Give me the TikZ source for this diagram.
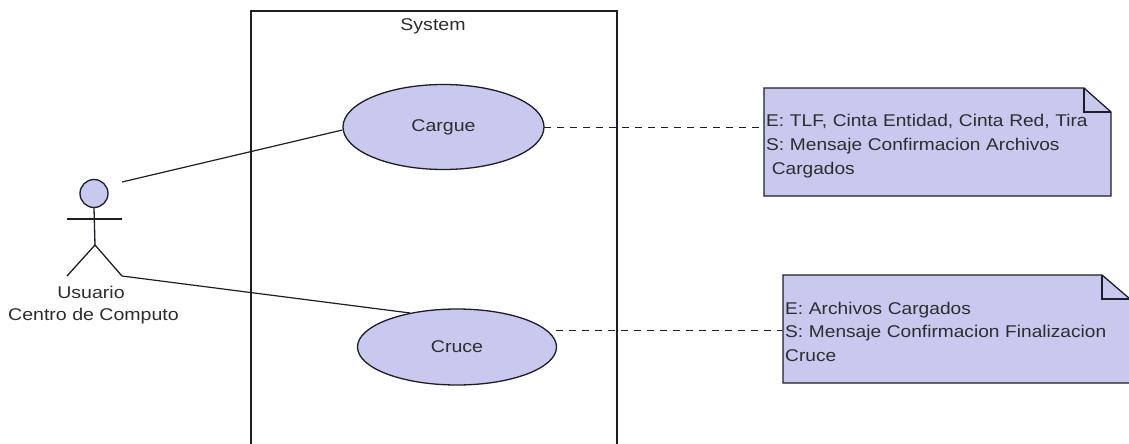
\documentclass[tikz,border=0pt]{standalone}
\usepackage{fontspec}
\setmainfont{Liberation Sans}
\newfontfamily\notefont[FakeStretch=1.125]{Liberation Sans}
\newfontfamily\labelfont[FakeStretch=1.15]{Liberation Sans}
\usetikzlibrary{shapes.geometric}
\definecolor{umlfill}{RGB}{201,201,240}
\definecolor{umlline}{RGB}{30,30,40}
\definecolor{umltext}{RGB}{45,45,45}
\tikzset{
  usecase/.style={ellipse,draw=umlline,fill=umlfill,line width=1.3pt,inner sep=0pt,text=umltext,font=\labelfont\fontsize{17pt}{20pt}\selectfont},
  link/.style={draw=umlline,line width=1.2pt},
  notelink/.style={draw=umlline,line width=1pt,dash pattern=on 7pt off 6pt},
  notebody/.style={draw=umlline,fill=umlfill,line width=1.3pt,line join=miter},
  label/.style={text=umltext,font=\labelfont\fontsize{17pt}{20pt}\selectfont,inner sep=0pt},
  notetext/.style={text=umltext,inner sep=0pt,align=left,anchor=north west,text width=345pt,font=\notefont\fontsize{17pt}{23.8pt}\selectfont},
  anchorbox/.style={inner sep=0pt,minimum width=1pt,minimum height=1pt}
}
\begin{document}
\begin{tikzpicture}[x=1pt,y=-1pt]
\useasboundingbox (0,0) rectangle (1129,444);
\fill[white] (0,0) rectangle (1129,444);
% system boundary
\coordinate (sbl) at (251,444);
\coordinate (stl) at (251,11);
\coordinate (str) at (617,11);
\coordinate (sbr) at (617,444);
\draw[umlline,line width=1.3pt] (sbl) -- (stl) -- (str) -- (sbr);
\node[label] (systitle) at (433,26) {System};
% use cases
\node[usecase,minimum width=201pt,minimum height=85pt] (cargue) at (443.5,127) {Cargue};
\node[usecase,minimum width=199pt,minimum height=76pt] (cruce) at (457,347) {Cruce};
% actor
\node[circle,draw=umlline,fill=umlfill,line width=1.3pt,minimum size=28pt,inner sep=0pt] (head) at (94,193.5) {};
\coordinate (hip) at (95,245);
\coordinate (handl) at (67,219);
\coordinate (handr) at (122,219);
\coordinate (footl) at (67,276);
\coordinate (footr) at (122,276);
\coordinate (gaze) at (122,182);
\draw[umlline,line width=1.3pt] (head.south) -- (hip);
\draw[umlline,line width=1.3pt] (handl) -- (handr);
\draw[umlline,line width=1.3pt] (footl) -- (hip) -- (footr);
\node[label] (actor1) at (91,292.5) {Usuario};
\node[label] (actor2) at (93.5,316.5) {Centro de Computo};
% notes
\draw[notebody] (764,88) -- (1084,88) -- (1111,112) -- (1111,196) -- (764,196) -- cycle;
\draw[umlline,line width=1.3pt] (1084,88) -- (1084,112) -- (1111,112);
\node[anchorbox] (note1) at (764,127) {};
\node[notetext] (note1text) at (766,114) {E: TLF, Cinta Entidad, Cinta Red, Tira\\S: Mensaje Confirmacion Archivos\\\ Cargados};
\draw[notebody] (783,275) -- (1102,275) -- (1130,299) -- (1130,383) -- (783,383) -- cycle;
\draw[umlline,line width=1.3pt] (1102,275) -- (1102,299) -- (1130,299);
\node[anchorbox] (note2) at (783,330) {};
\node[notetext] (note2text) at (785,301.5) {E: Archivos Cargados\\S: Mensaje Confirmacion Finalizacion\\Cruce};
% connectors
\path[link] (gaze) -- (cargue.west |- 0,130);
\coordinate (c2) at (410,313);
\path[link] (footr) -- (c2);
\coordinate (d1) at (544,127);
\coordinate (d2) at (556,330);
\path[notelink] (d1) -- (note1);
\path[notelink] (d2) -- (note2);
\end{tikzpicture}
\end{document}
